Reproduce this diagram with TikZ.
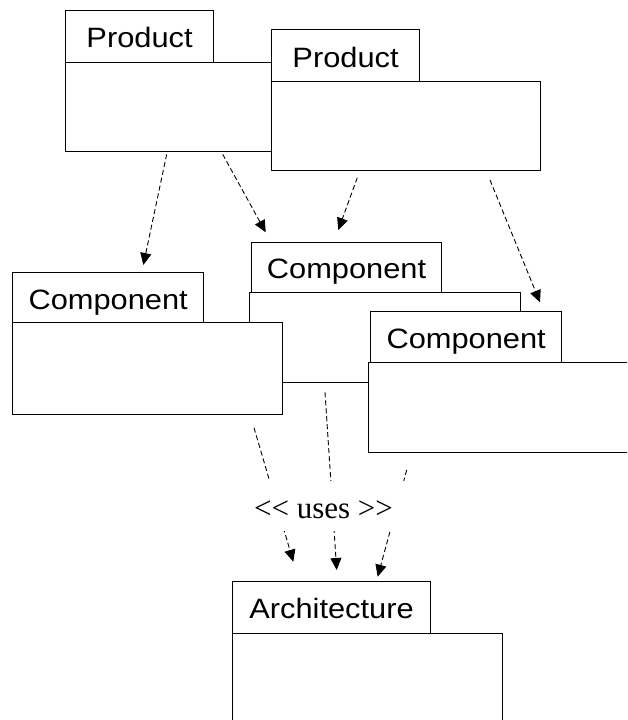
\documentclass[tikz,border=0pt]{standalone}
\usepackage{fontspec}
\usetikzlibrary{arrows.meta}
\newfontfamily\pkgfont[FakeStretch=1.1]{Liberation Sans}
\newfontfamily\stfont{Liberation Serif}
\tikzset{
  pkgtab/.style={draw, line width=1.1pt, fill=white, rectangle, anchor=north west,
    inner sep=0pt, font=\pkgfont\fontsize{28}{30}\selectfont,
    text height=23pt, text depth=0pt},
  pkgbody/.style={draw, line width=1.1pt, fill=white, rectangle, anchor=north west,
    inner sep=0pt},
  dep/.style={line width=0.9pt, dash pattern=on 5pt off 3pt,
    -{Triangle[length=12pt,width=11pt]}},
  stereo/.style={font=\stfont\fontsize{31}{33}\selectfont, anchor=base, inner sep=0pt},
}
\begin{document}
\begin{tikzpicture}[x=1pt,y=-1pt]
\useasboundingbox (0,0) rectangle (627,720);
\clip (0,0) rectangle (627,720);
\fill[white] (0,0) rectangle (627,720);

% Products
\node[pkgbody, minimum width=220pt, minimum height=89.3pt] (p1body) at (65,61.7) {};
\node[pkgtab, minimum width=148pt, minimum height=52.2pt] (p1) at (65,9.5) {Product};
\node[pkgbody, minimum width=269pt, minimum height=89pt] (p2body) at (271,80.7) {};
\node[pkgtab, minimum width=148pt, minimum height=51.4pt] (p2) at (271,29.3) {Product};

% Components
\node[pkgbody, minimum width=270.7pt, minimum height=89.7pt] (cbbody) at (249.3,292) {};
\node[pkgtab, minimum width=190pt, minimum height=50.3pt] (cb) at (251,241.7) {Component};
\node[pkgbody, minimum width=270pt, minimum height=91.4pt] (cabody) at (12.3,322.3) {};
\node[pkgtab, minimum width=190.7pt, minimum height=50pt] (ca) at (12.3,272.3) {Component};
\node[pkgbody, minimum width=275pt, minimum height=90.3pt] (ccbody) at (368.3,362) {};
\node[pkgtab, minimum width=190.7pt, minimum height=51.3pt] (cc) at (370.3,310.7) {Component};

% Architecture
\node[pkgbody, minimum width=269.7pt, minimum height=100pt] (arbody) at (232.3,632.7) {};
\node[pkgtab, minimum width=197.4pt, minimum height=51.7pt] (ar) at (232.3,581) {Architecture};

% connector ends
\coordinate (a1s) at (166.7,154.3); \coordinate (a1e) at (143.3,265);
\coordinate (a2s) at (222.7,154.3); \coordinate (a2e) at (265.7,232.3);
\coordinate (a3s) at (357.3,177.7); \coordinate (a3e) at (338.3,230);
\coordinate (a4s) at (490,180);     \coordinate (a4e) at (540,302.3);
\coordinate (a5s) at (254,427.7);   \coordinate (a5e) at (293.3,561.7);
\coordinate (a6s) at (325,392.3);   \coordinate (a6e) at (336.7,570);
\coordinate (a7s) at (406.7,470);   \coordinate (a7e) at (377.7,576.7);

\draw[dep] (a1s) -- (a1e);
\draw[dep] (a2s) -- (a2e);
\draw[dep] (a3s) -- (a3e);
\draw[dep] (a4s) -- (a4e);
\draw[dep] (a5s) -- (a5e);
\draw[dep] (a6s) -- (a6e);
\draw[dep] (a7s) -- (a7e);

% label with gap in the dependency lines
\fill[white] (242,481) rectangle (407,530.5);
\node[stereo] (uses) at (323.5,518.3) {<< uses >>};
\end{tikzpicture}
\end{document}
